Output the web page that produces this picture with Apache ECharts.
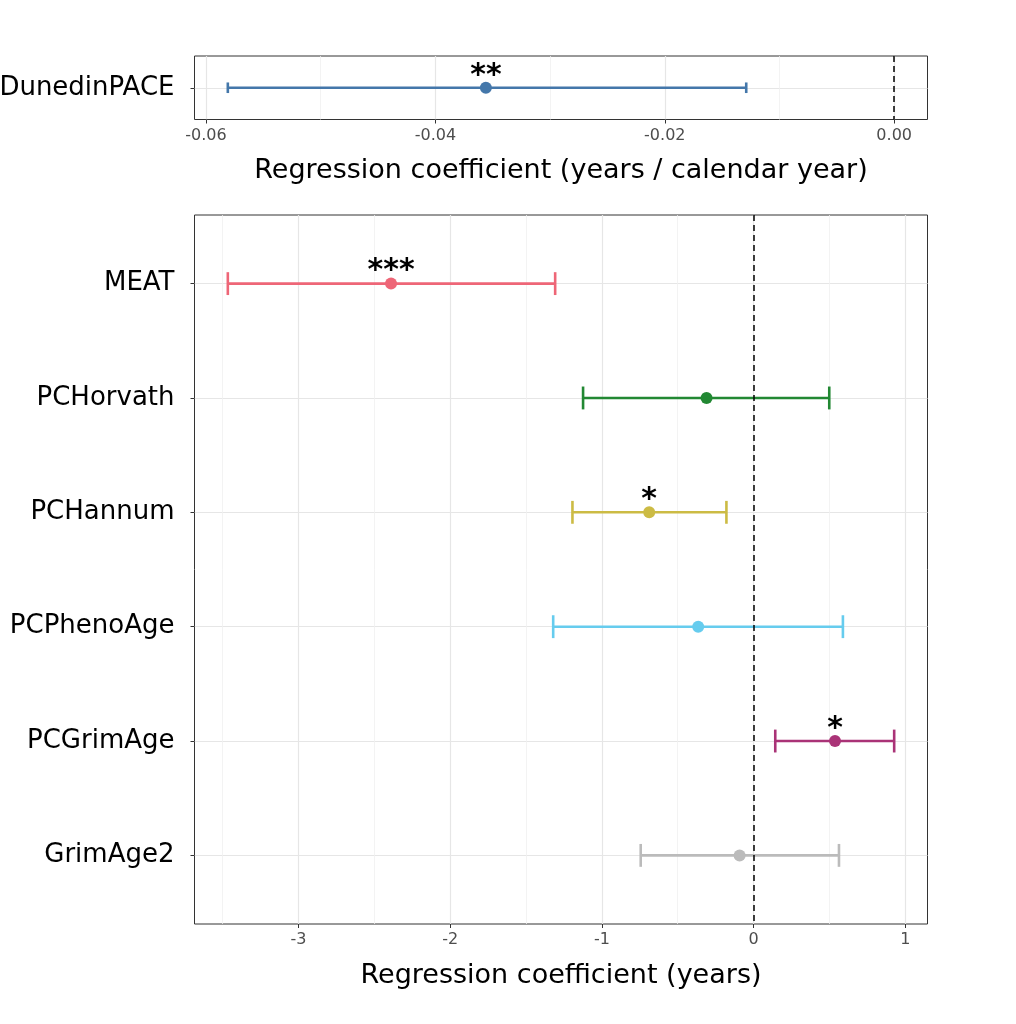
<!DOCTYPE html>
<html>
<head>
<meta charset="utf-8">
<script src="https://cdn.jsdelivr.net/npm/echarts@6.0.0/dist/echarts.min.js"></script>
<style>
  html, body { margin: 0; padding: 0; background: #fff; }
  #main { width: 1016px; height: 1024px; }
</style>
</head>
<body>
<div id="main"></div>
<script>
// --- data ---
var clocks = ['MEAT', 'PCHorvath', 'PCHannum', 'PCPhenoAge', 'PCGrimAge', 'GrimAge2'];
var clockEst = [-2.39, -0.31, -0.688, -0.365, 0.537, -0.092];
var clockLower = [-3.466, -1.124, -1.194, -1.321, 0.143, -0.744];
var clockUpper = [-1.308, 0.499, -0.179, 0.589, 0.927, 0.563];
var clockStars = ['***', '', '*', '', '*', ''];

var pace = ['DunedinPACE'];
var paceEst = [-0.0356];
var paceLower = [-0.0581];
var paceUpper = [-0.0129];
var paceStars = ['**'];

var yearTicks = [-3, -2, -1, 0, 1];
var paceTicks = [-0.06, -0.04, -0.02, 0];

// colours (Tol bright)
var clockColors = ['#EE6677', '#228833', '#CCBB44', '#66CCEE', '#AA3377', '#BBBBBB'];
var paceColors = ['#4477AA'];

// ggplot-like limits: data range (incl. 0 line) + 5%
function limits(lo, hi) {
  var a = Math.min.apply(null, lo.concat([0]));
  var b = Math.max.apply(null, hi.concat([0]));
  var pad = (b - a) * 0.05;
  return [a - pad, b + pad];
}
function minors(ticks, lim) {
  var step = ticks[1] - ticks[0], out = [];
  ticks.forEach(function (t) { if (t - step / 2 > lim[0]) out.push(t - step / 2); });
  var last = ticks[ticks.length - 1] + step / 2;
  if (last < lim[1]) out.push(last);
  return out;
}
function idx(arr) { return arr.map(function (_, i) { return i + 1; }); }

var yearLim = limits(clockLower, clockUpper);
var paceLim = limits(paceLower, paceUpper);

var FONT = 'DejaVu Sans';
var GRID_MAJOR = '#e6e6e6';
var GRID_MINOR = '#f0f0f0';

function rows(lo, hi, est) {
  return est.map(function (m, i) { return [lo[i], hi[i], i + 1, m]; });
}

function errorBar(colors, stars) {
  return function (params, api) {
    var lo = api.value(0), hi = api.value(1), y = api.value(2), m = api.value(3);
    var a = api.coord([lo, y]), b = api.coord([hi, y]), c = api.coord([m, y]);
    var t = api.coord([lo, y - 0.1])[1], d = api.coord([lo, y + 0.1])[1];
    var col = colors[params.dataIndex];
    var ls = { stroke: col, lineWidth: 2.6 };
    var kids = [
      { type: 'line', shape: { x1: a[0], y1: a[1], x2: b[0], y2: b[1] }, style: ls },
      { type: 'line', shape: { x1: a[0], y1: t, x2: a[0], y2: d }, style: ls },
      { type: 'line', shape: { x1: b[0], y1: t, x2: b[0], y2: d }, style: ls },
      { type: 'circle', shape: { cx: c[0], cy: c[1], r: 6 }, style: { fill: col } }
    ];
    var s = stars[params.dataIndex];
    if (s) {
      kids.push({
        type: 'text',
        style: {
          text: s, x: c[0], y: c[1] - 12, align: 'center', verticalAlign: 'middle',
          font: 'bold 30px "' + FONT + '"', fill: '#000'
        }
      });
    }
    return { type: 'group', children: kids };
  };
}

function mainX(grid, lim, ticks, fmt, title) {
  return {
    type: 'value', gridIndex: grid, min: lim[0], max: lim[1], position: 'bottom',
    name: title, nameLocation: 'middle', nameGap: 38,
    nameTextStyle: { fontFamily: FONT, fontSize: 27, color: '#000' },
    axisLine: { show: false, onZero: false },
    axisTick: { show: true, length: 4, customValues: ticks, lineStyle: { color: '#333', width: 1 } },
    axisLabel: { customValues: ticks, margin: 8, fontFamily: FONT, fontSize: 16, color: '#4d4d4d', formatter: fmt },
    splitLine: { show: true, lineStyle: { color: GRID_MAJOR, width: 1.2 } }
  };
}
function minorX(grid, lim, ticks) {
  var mv = minors(ticks, lim);
  return {
    type: 'value', gridIndex: grid, min: lim[0], max: lim[1], position: 'top',
    axisLine: { show: false, onZero: false },
    axisTick: { show: false, customValues: mv },
    axisLabel: { show: false, customValues: mv },
    splitLine: { show: true, lineStyle: { color: GRID_MINOR, width: 0.8 } }
  };
}
function catY(grid, names) {
  var pos = idx(names);
  return {
    type: 'value', gridIndex: grid, inverse: true, min: 0.4, max: names.length + 0.6, position: 'left',
    axisLine: { show: false, onZero: false },
    axisTick: { show: true, length: 4, customValues: pos, lineStyle: { color: '#333', width: 1 } },
    axisLabel: {
      customValues: pos, margin: 20, fontFamily: FONT, fontSize: 26, color: '#000',
      formatter: function (v) { return names[Math.round(v) - 1] || ''; }
    },
    splitLine: { show: true, lineStyle: { color: GRID_MAJOR, width: 1.2 } }
  };
}

var zeroLine = {
  silent: true, symbol: 'none', label: { show: false },
  lineStyle: { color: '#000', type: [6, 4], width: 1.5 },
  data: [{ xAxis: 0 }]
};

var chart = echarts.init(document.getElementById('main'), null, { renderer: 'canvas' });
chart.setOption({
  backgroundColor: '#fff',
  animation: false,
  grid: [
    { left: 194.5, top: 56, width: 733, height: 63.5, show: true, borderColor: '#333', borderWidth: 1,
      containLabel: false, outerBoundsMode: 'none' },
    { left: 194.5, top: 215, width: 733, height: 709, show: true, borderColor: '#333', borderWidth: 1,
      containLabel: false, outerBoundsMode: 'none' }
  ],
  xAxis: [
    mainX(0, paceLim, paceTicks, function (v) { return v.toFixed(2); }, 'Regression coefficient (years / calendar year)'),
    mainX(1, yearLim, yearTicks, function (v) { return String(Math.round(v)); }, 'Regression coefficient (years)'),
    minorX(0, paceLim, paceTicks),
    minorX(1, yearLim, yearTicks)
  ],
  yAxis: [catY(0, pace), catY(1, clocks)],
  series: [
    {
      type: 'custom', xAxisIndex: 0, yAxisIndex: 0,
      encode: { x: [0, 1, 3], y: 2 },
      data: rows(paceLower, paceUpper, paceEst),
      renderItem: errorBar(paceColors, paceStars),
      markLine: zeroLine
    },
    {
      type: 'custom', xAxisIndex: 1, yAxisIndex: 1,
      encode: { x: [0, 1, 3], y: 2 },
      data: rows(clockLower, clockUpper, clockEst),
      renderItem: errorBar(clockColors, clockStars),
      markLine: zeroLine
    }
  ]
});
</script>
</body>
</html>
